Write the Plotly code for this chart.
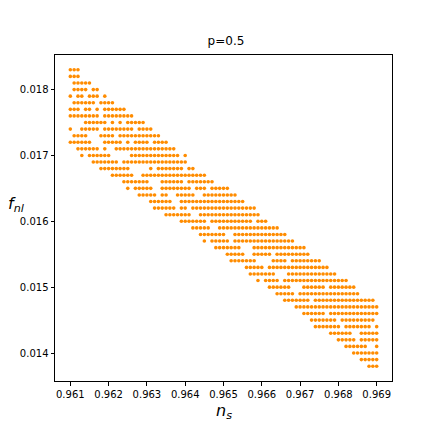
import plotly.graph_objects as go

# f_nl value of each row of the grid (top to bottom)
FNL_ROWS = [0.0183, 0.0182, 0.0181, 0.0180, 0.0179, 0.0178, 0.0177, 0.0176, 0.0175, 0.0174,
            0.0173, 0.0172, 0.0171, 0.0170, 0.0169, 0.0168, 0.0167, 0.0166, 0.0165, 0.0164,
            0.0163, 0.0162, 0.0161, 0.0160, 0.0159, 0.0158, 0.0157, 0.0156, 0.0155, 0.0154,
            0.0153, 0.0152, 0.0151, 0.0150, 0.0149, 0.0148, 0.0147, 0.0146, 0.0145, 0.0144,
            0.0143, 0.0142, 0.0141, 0.0140, 0.0139, 0.0138]

# n_s grid used by the scan
NS_START = 0.9610
NS_STEP = 0.0001

# runs of filled n_s grid indices in each row (inclusive index ranges)
ROW_RUNS = [
    [(0, 2)],
    [(0, 2)],
    [(1, 5)],
    [(1, 4), (6, 7)],
    [(0, 0), (2, 3), (5, 7), (9, 9)],
    [(1, 6), (8, 11)],
    [(0, 2), (4, 5), (7, 7), (9, 14)],
    [(0, 7), (9, 16)],
    [(4, 9), (11, 11), (13, 13), (15, 19)],
    [(0, 0), (3, 7), (9, 16), (18, 21)],
    [(1, 4), (8, 11), (13, 23)],
    [(0, 5), (9, 13), (15, 15), (17, 20), (22, 25)],
    [(2, 7), (9, 9), (12, 27)],
    [(3, 3), (5, 10), (16, 28), (30, 30)],
    [(6, 12), (14, 30)],
    [(8, 15), (21, 21), (23, 29), (31, 32)],
    [(11, 16), (19, 35)],
    [(14, 20), (24, 29), (31, 37)],
    [(15, 15), (17, 21), (24, 31), (33, 35), (37, 41)],
    [(18, 22), (24, 25), (28, 32), (35, 43)],
    [(21, 26), (29, 45)],
    [(22, 27), (29, 30), (32, 48)],
    [(25, 31), (34, 49)],
    [(29, 35), (37, 47), (49, 51)],
    [(32, 36), (39, 54)],
    [(34, 40), (43, 56)],
    [(35, 35), (37, 41), (43, 58)],
    [(38, 44), (48, 61)],
    [(41, 45), (48, 52), (54, 62)],
    [(42, 48), (53, 56), (58, 65)],
    [(46, 50), (52, 67)],
    [(47, 53), (57, 69)],
    [(49, 49), (51, 54), (56, 72)],
    [(52, 57), (61, 66), (68, 74)],
    [(54, 58), (60, 75)],
    [(56, 62), (64, 79)],
    [(59, 80)],
    [(61, 66), (68, 80)],
    [(63, 69), (71, 79)],
    [(64, 70), (72, 78), (80, 80)],
    [(68, 73), (76, 80)],
    [(70, 74), (76, 80)],
    [(72, 77), (80, 80)],
    [(74, 80)],
    [(76, 80)],
    [(78, 80)],
]

X_TICKS = [0.961, 0.962, 0.963, 0.964, 0.965, 0.966, 0.967, 0.968, 0.969]
Y_TICKS = [0.014, 0.015, 0.016, 0.017, 0.018]

xs, ys = [], []
for fnl, runs in zip(FNL_ROWS, ROW_RUNS):
    for a, b in runs:
        for k in range(a, b + 1):
            xs.append(round(NS_START + NS_STEP * k, 4))
            ys.append(fnl)

fig = go.Figure()
fig.add_trace(go.Scatter(
    x=xs, y=ys, mode="markers",
    marker=dict(color="#FF8C00", size=3.6, line=dict(width=0)),
    showlegend=False, hoverinfo="skip",
))

axis_common = dict(
    showgrid=False, zeroline=False, showline=True, linecolor="black", linewidth=1,
    mirror=True, ticks="outside", ticklen=3.5, tickwidth=1, tickcolor="black",
    tickfont=dict(family="DejaVu Sans", size=10, color="black"),
)

fig.update_layout(
    width=436, height=436,
    margin=dict(l=47, r=52, t=47, b=63),
    paper_bgcolor="white", plot_bgcolor="white",
    title=dict(text="p=0.5", x=0.5, xanchor="center", y=1 - 33 / 436, yanchor="middle",
               font=dict(family="DejaVu Sans", size=12, color="black")),
    xaxis=dict(range=[0.9606, 0.9694], tickvals=X_TICKS,
               ticktext=[f"{v:.3f}" for v in X_TICKS], **axis_common),
    yaxis=dict(range=[0.013575, 0.018525], tickvals=Y_TICKS,
               ticktext=[f"{v:.3f}" for v in Y_TICKS], **axis_common),
    font=dict(family="DejaVu Sans", color="black"),
)

fig.add_annotation(text="<i>n<sub>s</sub></i>", xref="paper", yref="paper",
                   x=0.5, y=-0.095, xanchor="center", yanchor="middle", showarrow=False,
                   font=dict(family="DejaVu Sans", size=16, color="black"))
fig.add_annotation(text="<i>f<sub>nl</sub></i>", xref="paper", yref="paper",
                   x=-0.113, y=0.54, xanchor="center", yanchor="middle", showarrow=False,
                   font=dict(family="DejaVu Sans", size=16, color="black"))

fig.write_html("out.html")
